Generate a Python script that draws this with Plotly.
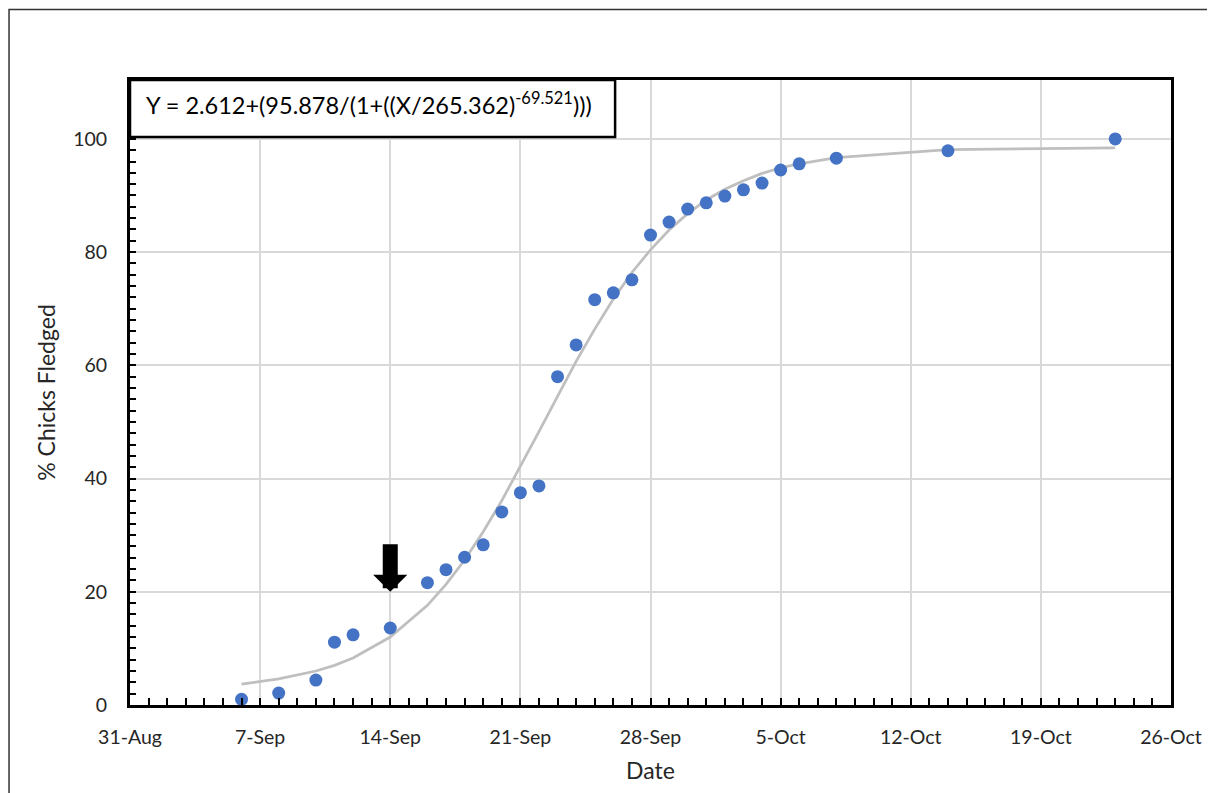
import plotly.graph_objects as go

# Observed data (dates and % chicks fledged)
dates = ["2019-09-06", "2019-09-08", "2019-09-10", "2019-09-11", "2019-09-12",
         "2019-09-14", "2019-09-16", "2019-09-17", "2019-09-18", "2019-09-19",
         "2019-09-20", "2019-09-21", "2019-09-22", "2019-09-23", "2019-09-24",
         "2019-09-25", "2019-09-26", "2019-09-27", "2019-09-28", "2019-09-29",
         "2019-09-30", "2019-10-01", "2019-10-02", "2019-10-03", "2019-10-04",
         "2019-10-05", "2019-10-06", "2019-10-08", "2019-10-14", "2019-10-23"]
pct_fledged = [1.0, 2.1, 4.4, 11.1, 12.4, 13.6, 21.6, 23.9, 26.1, 28.3,
               34.1, 37.5, 38.7, 58.0, 63.6, 71.6, 72.8, 75.1, 83.0, 85.3,
               87.6, 88.7, 89.9, 91.0, 92.2, 94.5, 95.6, 96.6, 97.9, 100.0]

# Fitted curve values read at the same dates
fit_values = [3.7, 4.6, 6.0, 7.0, 8.3, 12.0, 17.6, 21.3, 25.6, 30.6,
              36.1, 42.1, 48.3, 54.5, 60.7, 66.4, 71.7, 76.4, 80.4, 83.9,
              86.8, 89.2, 91.1, 92.6, 93.9, 94.9, 95.6, 96.7, 98.1, 98.4]

tick_dates = ["2019-08-31", "2019-09-07", "2019-09-14", "2019-09-21",
              "2019-09-28", "2019-10-05", "2019-10-12", "2019-10-19", "2019-10-26"]
tick_labels = ["31-Aug", "7-Sep", "14-Sep", "21-Sep", "28-Sep",
               "5-Oct", "12-Oct", "19-Oct", "26-Oct"]
y_ticks = [0, 20, 40, 60, 80, 100]

equation = "Y = 2.612+(95.878/(1+((X/265.362)<sup>-69.521</sup>)))"
arrow_date = "2019-09-14"
arrow_y = 20

FONT = "Lato, Carlito, Calibri, sans-serif"
TXT = "#262626"

fig = go.Figure()
fig.add_trace(go.Scatter(x=dates, y=fit_values, mode="lines",
                         line=dict(color="#BFBFBF", width=2.75),
                         hoverinfo="skip", showlegend=False))
fig.add_trace(go.Scatter(x=dates, y=pct_fledged, mode="markers",
                         marker=dict(color="#4472C4", size=13),
                         showlegend=False))

fig.update_layout(
    width=1207, height=785,
    margin=dict(l=122, r=44, t=72, b=88),
    paper_bgcolor="white", plot_bgcolor="white",
    font=dict(family=FONT, size=19, color=TXT),
    showlegend=False,
)

fig.update_xaxes(
    type="date",
    range=["2019-08-31", "2019-10-26"],
    tickvals=tick_dates, ticktext=tick_labels,
    showgrid=True, gridcolor="#D9D9D9", gridwidth=1.5,
    showline=True, linecolor="black", linewidth=3, mirror=True,
    ticks="inside", ticklen=7, tickwidth=1.5, tickcolor="black",
    minor=dict(dtick=86400000, ticks="inside", ticklen=7, tickwidth=1.5,
               tickcolor="black", showgrid=False),
    ticklabelstandoff=13,
    tickfont=dict(size=19.5, family=FONT, color=TXT),
    title=dict(text="Date", font=dict(size=23, family=FONT, color=TXT), standoff=16),
    zeroline=False,
)
fig.update_yaxes(
    range=[0, 110.4],
    tickvals=y_ticks,
    showgrid=True, gridcolor="#D9D9D9", gridwidth=1.5,
    showline=True, linecolor="black", linewidth=3, mirror=True,
    ticks="inside", ticklen=6, tickwidth=1.5, tickcolor="black",
    minor=dict(dtick=2, ticks="inside", ticklen=6, tickwidth=1.5,
               tickcolor="black", showgrid=False),
    ticklabelstandoff=16,
    tickfont=dict(size=19.5, family=FONT, color=TXT),
    title=dict(text="% Chicks Fledged", font=dict(size=23, family=FONT, color=TXT), standoff=12),
    zeroline=False,
)

# Equation box
fig.add_shape(type="rect", xref="paper", yref="paper",
              x0=0, x1=0.466, y0=0.9088, y1=1.0,
              line=dict(color="black", width=2.5), fillcolor="white", layer="above")
fig.add_annotation(xref="paper", yref="paper", x=0.0135, y=0.962,
                   xanchor="left", yanchor="middle", showarrow=False,
                   text=equation, font=dict(size=23.5, family=FONT, color="black"))

# Arrow marking 14-Sep
fig.add_annotation(x=arrow_date, y=arrow_y, xref="x", yref="y",
                   ax=0, ay=-49, axref="pixel", ayref="pixel",
                   showarrow=True, arrowhead=1, arrowsize=0.38, arrowwidth=15,
                   arrowcolor="black", text="")

# Outer frame of the figure
fig.add_shape(type="rect", xref="paper", yref="paper",
              x0=-0.1162, x1=1.0393, y0=-0.16, y1=1.1130,
              line=dict(color="#333333", width=1.5), layer="below")

fig.write_html("out.html")
